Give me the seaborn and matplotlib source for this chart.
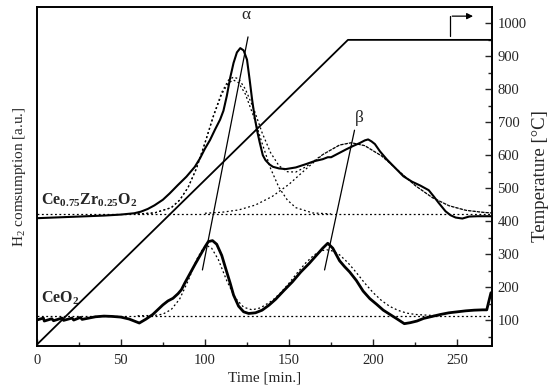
import numpy as np
import pandas as pd
import matplotlib
matplotlib.use("Agg")
import matplotlib.pyplot as plt
from matplotlib.ticker import MultipleLocator
import seaborn as sns

# temperature programme
temp_time = [0, 185, 270]
temp_val = [25, 950, 950]

# Ce0.75Zr0.25O2 measured signal
czo_time = [0, 10, 20, 30, 40, 50, 58, 62, 66, 70, 75, 79, 84, 89, 94, 97, 100, 103, 106, 109,
            111, 113, 115, 117, 119, 121, 123, 125, 126.6, 128, 129.5, 131, 132.5, 134.4, 136,
            138.4, 140.4, 144, 148, 154, 160, 165, 170, 173, 175, 178, 184, 188, 192, 195, 197,
            199, 201, 204, 208, 213, 218, 223, 228, 233, 236, 239, 243, 246, 249, 253, 255, 257,
            262, 270]
czo_val = [409, 411, 413, 415, 417, 420, 424, 429, 437, 448, 465, 484, 510, 535, 565, 590, 620,
           646, 678, 708, 735, 780, 835, 880, 912, 925, 918, 890, 828, 770, 717, 675, 640, 600,
           585, 572, 565, 560, 558, 563, 573, 582, 588, 594, 594, 602, 618, 628, 637, 645, 648,
           642, 634, 612, 588, 562, 536, 520, 508, 494, 475, 455, 430, 418, 411, 408, 411, 414,
           415, 415]

# Ce0.75Zr0.25O2 fitted peaks (dotted)
czo_base = 422
czo_a_time = [60, 70, 80, 85, 90, 95, 100, 105, 110, 114, 117, 120, 124, 129, 134, 139, 144, 149,
              154, 164, 175]
czo_a_val = [422, 425, 441, 464, 502, 560, 636, 717, 786, 820, 828, 820, 786, 717, 636, 560, 502,
             464, 441, 425, 422]
czo_b_time = [100, 110, 120, 130, 140, 150, 160, 170, 180, 187, 195, 205, 215, 225, 235, 245, 255,
              265, 270]
czo_b_val = [424, 427, 434, 449, 475, 512, 558, 602, 631, 638, 629, 598, 553, 508, 472, 447, 433,
             427, 425]
czo_sum_time = [60, 70, 80, 85, 90, 95, 100, 105, 110, 114, 117, 120, 124, 129, 134, 139, 144,
                149, 154, 160, 170, 180, 187, 195, 205, 215, 225, 235, 245, 255, 265, 270]
czo_sum_val = [422, 425, 441, 464, 503, 561, 638, 720, 791, 828, 837, 832, 801, 741, 668, 608,
               568, 550, 549, 565, 602, 631, 638, 629, 598, 553, 508, 472, 447, 433, 427, 425]

# CeO2 measured signal
ceo_time = [0, 4, 4.5, 9, 10, 15, 16, 21, 22, 26, 27, 35, 40, 45, 50, 55, 61, 65, 69, 75, 78, 81,
            84, 86, 88, 91, 94, 97, 100, 102, 104.5, 107, 110, 112, 115, 117, 120, 123, 126, 130,
            134, 138, 142, 147, 152, 157, 162, 166, 170, 173, 176, 180, 183, 186, 190, 194, 198,
            202, 206, 210, 214, 218.5, 222, 226, 230, 235, 240, 245, 250, 255, 260, 265, 267.5,
            268.5, 270]
ceo_val = [100, 106, 97, 104, 98, 106, 99, 106, 100, 108, 102, 110, 112, 111, 109, 103, 91, 103,
           117, 146, 158, 166, 180, 192, 212, 240, 268, 295, 322, 338, 341, 330, 296, 262, 212,
           176, 142, 125, 120, 122, 130, 145, 163, 190, 216, 246, 272, 295, 318, 333, 318, 280,
           262, 246, 220, 188, 165, 148, 130, 117, 104, 89, 92, 97, 105, 111, 117, 122, 125, 128,
           130, 131, 131, 152, 183]

# CeO2 fit (dotted)
ceo_base = 113
ceo_fit_time = [60, 70, 75, 80, 85, 90, 95, 99, 101.5, 104, 108, 113, 118, 123, 128, 133, 140,
                145, 150, 155, 160, 165, 170, 172.5, 175, 180, 185, 190, 195, 200, 205, 210, 215,
                220, 225, 235, 240]
ceo_fit_val = [113, 114, 118, 132, 164, 219, 283, 318, 325, 318, 283, 219, 167, 139, 131, 137,
               159, 183, 212, 244, 274, 298, 311, 313, 311, 298, 274, 244, 212, 183, 159, 141, 129,
               121, 117, 114, 113]

sns.set_style("ticks")
plt.rcParams["font.family"] = ["Liberation Serif", "DejaVu Serif"]
plt.rcParams["mathtext.fontset"] = "custom"
plt.rcParams["mathtext.rm"] = "Liberation Serif"
plt.rcParams["mathtext.bf"] = "Liberation Serif:bold"
plt.rcParams["mathtext.it"] = "Liberation Serif:italic"

fig = plt.figure(figsize=(5.5, 3.9), dpi=100)
ax = fig.add_axes([0.0667, 0.114, 0.8278, 0.867])
ax2 = ax.twinx()

ylim = (22.7, 1048.5)

# dotted baselines and fits
dot = dict(color="black", lw=0.9, linestyle=(0, (1.5, 2)))
ax.axhline(czo_base, **dot)
ax.axhline(ceo_base, **dot)
sns.lineplot(x=czo_a_time, y=czo_a_val, ax=ax, **dot)
sns.lineplot(x=czo_b_time, y=czo_b_val, ax=ax, **dot)
sns.lineplot(x=czo_sum_time, y=czo_sum_val, ax=ax, **dot)
sns.lineplot(x=ceo_fit_time, y=ceo_fit_val, ax=ax, **dot)

# measured signals
sns.lineplot(x=czo_time, y=czo_val, ax=ax, color="black", lw=1.5)
sns.lineplot(x=ceo_time, y=ceo_val, ax=ax, color="black", lw=2.0)

# temperature
sns.lineplot(x=temp_time, y=temp_val, ax=ax2, color="black", lw=1.3)

# peak markers
ax.plot([98.5, 125.6], [252, 959], color="black", lw=0.9)
ax.plot([171.1, 188.9], [252, 676], color="black", lw=0.9)
ax.text(124.2, 1025, "\u03b1", ha="center", va="center", fontsize=12.5)
ax.text(191.8, 712, "\u03b2", ha="center", va="center", fontsize=12.5)

ax.text(2.4, 449, r"$\mathbf{Ce_{0.75}Zr_{0.25}O_2}$", fontsize=11.5, ha="left", va="baseline")
ax.text(2.4, 152, r"$\mathbf{CeO_2}$", fontsize=11.5, ha="left", va="baseline")

# arrow to right axis
ax2.plot([245.7, 245.7], [962, 1022], color="black", lw=0.9)
ax2.annotate("", xy=(261, 1022), xytext=(245.3, 1022),
             arrowprops=dict(arrowstyle="-|>", color="black", lw=0.9, mutation_scale=9))

ax.set_xlim(0, 270.6)
ax.set_ylim(*ylim)
ax2.set_ylim(*ylim)

ax.set_xlabel("Time [min.]", fontsize=11, labelpad=3)
ax.set_ylabel(r"H$_2$ comsumption [a.u.]", fontsize=11, labelpad=6)
ax2.set_ylabel("Temperature [\u00b0C]", fontsize=13.5, labelpad=4)

ax.xaxis.set_major_locator(MultipleLocator(50))
ax.xaxis.set_minor_locator(MultipleLocator(25))
ax.tick_params(axis="x", which="major", direction="in", length=5, width=1, labelsize=10.5, pad=6)
ax.tick_params(axis="x", which="minor", direction="in", length=3, width=1)
ax.tick_params(axis="y", left=False, labelleft=False)

ax2.yaxis.set_major_locator(MultipleLocator(100))
ax2.yaxis.set_minor_locator(MultipleLocator(50))
ax2.set_yticks(range(100, 1001, 100))
ax2.tick_params(axis="y", which="major", direction="in", length=5, width=1, labelsize=10.5, pad=4)
ax2.tick_params(axis="y", which="minor", direction="in", length=3, width=1)

for a in (ax, ax2):
    for s in a.spines.values():
        s.set_linewidth(1.2)
        s.set_color("black")

fig.savefig("out.png", dpi=100)
